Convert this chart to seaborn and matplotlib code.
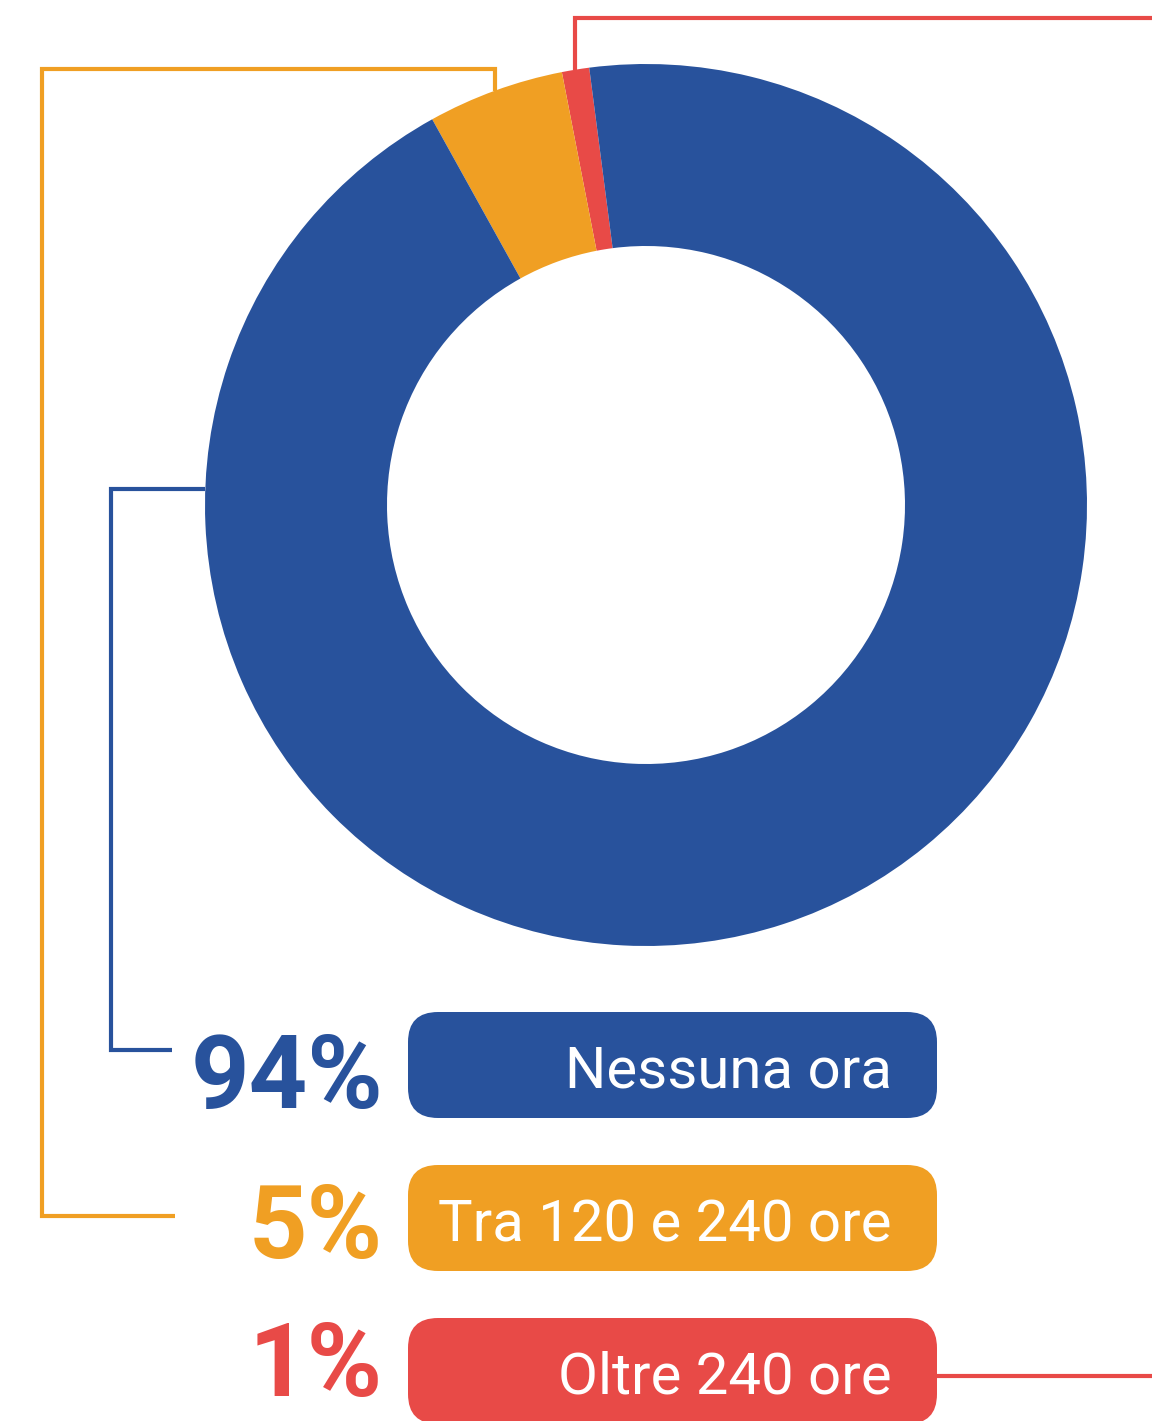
import numpy as np
import matplotlib
matplotlib.use("Agg")
import matplotlib.pyplot as plt
import seaborn as sns
from matplotlib.patches import FancyBboxPatch

# === Données ===
categories = ["Nessuna ora", "Tra 120 e 240 ore", "Oltre 240 ore"]
values = [94, 5, 1]
pct_labels = ["94%", "5%", "1%"]
colors = ["#28529C", "#F09F23", "#E84A47"]

W, H = 1152, 1421
sns.set_theme(style="white")
plt.rcParams['font.family'] = ['Roboto', 'DejaVu Sans']

fig = plt.figure(figsize=(W / 100, H / 100), dpi=100)
ax = fig.add_axes([0, 0, 1, 1])

def fy(y):
    # y en pixels (depuis le haut) -> coordonnées des données
    return H - y

# === Donut ===
cx, cy, r_out, ring = 646, fy(505), 441, 182
# ordre anti-horaire : rouge, orange, bleu
order = [2, 1, 0]
wedges, _ = ax.pie([values[i] for i in order], colors=[colors[i] for i in order],
                   startangle=97.4, counterclock=True, center=(cx, cy), radius=r_out,
                   wedgeprops=dict(width=ring, linewidth=0), frame=True)
ax.set_xlim(0, W)
ax.set_ylim(0, H)
ax.set_aspect('equal')
ax.axis('off')

def edge_point(angle_deg):
    a = np.deg2rad(angle_deg)
    return cx + r_out * np.cos(a), cy + r_out * np.sin(a)

mid = {order[k]: (w.theta1 + w.theta2) / 2 for k, w in enumerate(wedges)}
lw = 3.0
line_kw = dict(lw=lw, solid_joinstyle='miter', solid_capstyle='butt')

# === Lignes de rappel ===
bx, by = edge_point(177.9)
ax.plot([bx, 111, 111, 172], [by, by, fy(1050), fy(1050)], color=colors[0], **line_kw)
ox, oy = edge_point(mid[1])
ax.plot([ox, ox, 42, 42, 175], [oy, fy(69), fy(69), fy(1216), fy(1216)], color=colors[1], **line_kw)
rx, ry = edge_point(mid[2])
ax.plot([rx, rx, W + 10], [ry, fy(18), fy(18)], color=colors[2], **line_kw)
ax.plot([930, W + 10], [fy(1376), fy(1376)], color=colors[2], **line_kw)

# === Légende : pourcentages + étiquettes ===
box_tops = [1012, 1165, 1318]
box_h = 106
label_base = [1088, 1241, 1394]
pct_base = [1108, 1258, 1396]

renderer = fig.canvas.get_renderer()

def fit_size(txt, target_w, **kw):
    t = ax.text(0, 0, txt, fontsize=50, **kw)
    w = t.get_window_extent(renderer).width
    t.remove()
    return 50 * target_w / w

lab_fs = fit_size(categories[1], 455, fontweight='normal')
pct_fs = fit_size(pct_labels[0], 193, fontweight='bold')

for i, cat in enumerate(categories):
    top = box_tops[i]
    box = FancyBboxPatch((408, fy(top + box_h)), 529, box_h,
                         boxstyle="round,pad=0,rounding_size=30",
                         facecolor=colors[i], edgecolor='none')
    ax.add_patch(box)
    ax.text(892, fy(label_base[i]), cat, color='white', fontsize=lab_fs, fontweight='normal',
            ha='right', va='baseline')
    ax.text(383, fy(pct_base[i]), pct_labels[i], color=colors[i], fontsize=pct_fs,
            fontweight='bold', ha='right', va='baseline')

fig.savefig("out.png", dpi=100)
